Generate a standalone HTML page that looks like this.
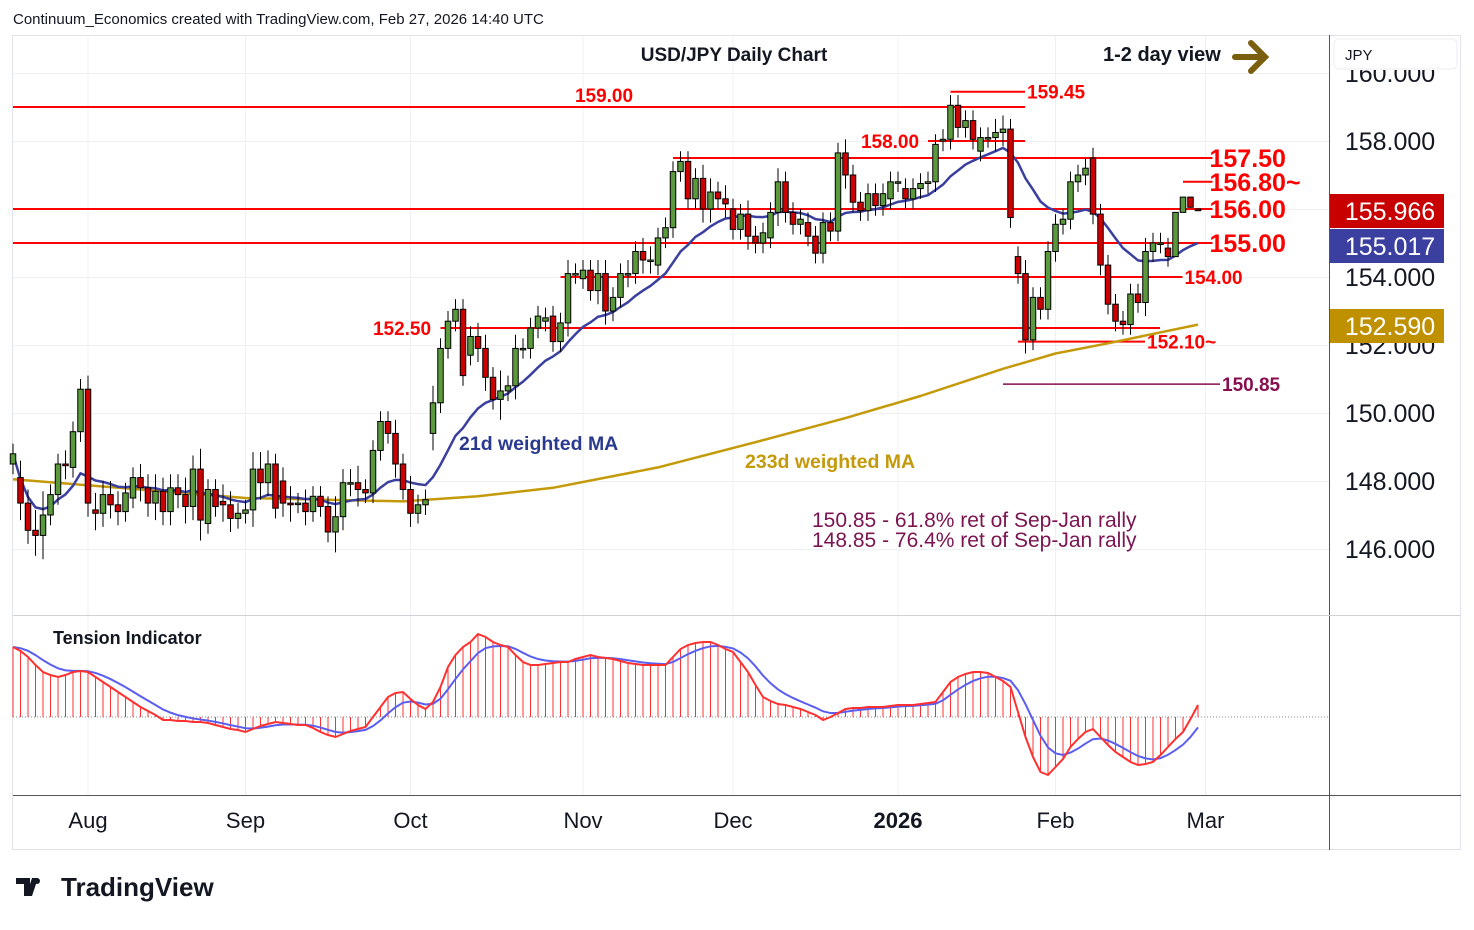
<!DOCTYPE html>
<html><head><meta charset="utf-8">
<style>
html,body{margin:0;padding:0;background:#fff;}
body{width:1474px;height:925px;overflow:hidden;font-family:"Liberation Sans",sans-serif;}
svg text{font-family:"Liberation Sans","DejaVu Sans",sans-serif;}
</style></head>
<body>
<svg id="chart" width="1474" height="925" viewBox="0 0 1474 925" xmlns="http://www.w3.org/2000/svg">
<rect x="0" y="0" width="1474" height="925" fill="#fff"/>
<text x="13" y="24" font-size="15" fill="#131722">Continuum_Economics created with TradingView.com, Feb 27, 2026 14:40 UTC</text>
<rect x="12.5" y="35.5" width="1448" height="814" fill="none" stroke="#e0e3eb"/>
<g id="grid"></g>
<g id="main"></g>
<g id="ind"></g>
<line x1="1329.5" y1="35" x2="1329.5" y2="850" stroke="#555"/>
<line x1="13" y1="615.5" x2="1461" y2="615.5" stroke="#cfd2da"/>
<line x1="13" y1="795.5" x2="1461" y2="795.5" stroke="#555"/>
<g id="axis"></g>
<text x="734" y="61" font-size="19" font-weight="bold" text-anchor="middle" fill="#131722">USD/JPY Daily Chart</text>
<text x="1103" y="61" font-size="20" font-weight="bold" fill="#131722">1-2 day view</text>
<g stroke="#7a5f0e" stroke-width="6" fill="none" stroke-linecap="round"><line x1="1235" y1="57" x2="1264" y2="57"/><polyline points="1251,43 1265,57 1251,71"/></g>
<rect x="1334" y="39" width="123" height="30" rx="5" fill="#fff" stroke="#eceef2"/>
<text x="1345" y="60" font-size="15" fill="#131722">JPY</text>
<text x="459" y="450" font-size="19.5" font-weight="bold" fill="#2a3a8f">21d weighted MA</text>
<text x="745" y="468" font-size="19.5" font-weight="bold" fill="#c49a0a">233d weighted MA</text>
<text x="812" y="527" font-size="21" fill="#7b1450">150.85 - 61.8% ret of Sep-Jan rally</text>
<text x="812" y="547" font-size="21" fill="#7b1450">148.85 - 76.4% ret of Sep-Jan rally</text>
<text x="53" y="644" font-size="18" font-weight="bold" fill="#131722">Tension Indicator</text>
<g><path d="M16 878h14v18h-6v-12h-8z M32 878h6l-6 18h-6z" fill="#131722"/><circle cx="37" cy="881" r="3" fill="#131722"/><text x="61" y="896" font-size="26" font-weight="bold" fill="#131722">TradingView</text></g>
</svg>
<script>
const opens=[148.5,148.1,147.35,146.55,146.4,147.0,147.6,148.5,148.4,149.45,150.7,147.15,147.05,147.6,147.3,147.1,147.5,148.1,147.8,147.35,147.7,147.1,147.8,147.6,147.25,148.35,146.75,147.75,147.4,147.3,146.9,147.05,147.15,148.35,147.95,148.5,148.0,147.35,147.35,147.35,147.1,147.55,147.25,146.5,146.95,147.95,147.95,147.75,147.65,148.9,149.75,149.4,148.5,147.75,147.05,147.3,
149.4,150.3,151.9,152.7,153.05,151.7,152.25,151.9,151.05,150.4,150.65,150.8,151.9,151.9,152.5,152.7,152.85,152.1,152.65,154.1,153.95,154.2,153.6,154.1,153.0,153.4,154.1,154.1,154.75,154.5,154.35,155.15,155.45,157.1,157.4,156.3,156.9,156.0,156.5,156.3,156.0,155.4,155.85,155.2,155.0,155.15,155.9,156.8,155.9,155.55,155.6,155.2,154.7,155.6,155.35,
157.65,157.0,156.2,155.95,156.45,156.1,156.3,156.8,156.6,156.3,156.6,156.75,156.8,158.0,158.05,159.05,158.4,158.6,157.7,158.1,158.1,158.25,158.35,154.6,154.1,152.15,153.4,153.05,154.75,155.55,155.7,156.8,157.0,157.5,155.85,154.35,153.2,152.7,152.6,153.5,153.25,154.75,155.0,154.85,154.6,155.9,156.35,156.0];
const closes=[148.8,147.35,146.55,146.4,147.0,147.6,148.5,148.45,149.45,150.7,147.35,147.05,147.6,147.3,147.1,147.65,148.1,147.8,147.35,147.7,147.1,147.8,147.6,147.25,148.35,146.85,147.75,147.25,147.3,146.9,147.05,147.15,148.35,147.95,148.5,147.2,147.35,147.3,147.35,147.1,147.55,147.25,146.5,146.95,147.95,147.95,147.75,147.65,148.9,149.75,149.4,148.5,147.75,147.05,147.3,147.45,
150.3,151.9,152.7,153.05,151.1,152.25,151.9,151.05,150.4,150.65,150.8,151.9,151.9,152.5,152.85,152.8,152.1,152.65,154.1,154.1,154.2,153.6,154.1,153.0,153.4,154.1,154.1,154.75,154.5,154.5,155.15,155.45,157.1,157.4,156.3,156.9,156.0,156.5,156.3,156.15,155.4,155.85,155.2,155.0,155.3,155.9,156.8,155.9,155.55,155.7,155.2,154.7,155.6,155.35,157.65,
157.0,156.2,155.95,156.45,156.1,156.45,156.8,156.8,156.3,156.6,156.75,156.8,157.9,158.05,159.05,158.4,158.6,158.05,158.1,158.1,158.25,158.35,155.75,154.1,152.15,153.4,153.05,154.75,155.55,155.7,156.8,157.0,157.2,155.85,154.35,153.2,152.7,152.6,153.5,153.25,154.75,155.0,155.0,154.6,155.9,156.35,156.05,155.95];
const wicks=[0.3,0.5,0.4,0.6,0.7,0.3,0.3,0.4,0.3,0.3,0.4,0.5,0.4,0.4,0.4,0.3,0.3,0.4,0.4,0.5,0.4,0.4,0.4,0.5,0.4,0.6,0.3,0.3,0.5,0.4,0.3,0.3,0.5,0.5,0.4,0.3,0.4,0.5,0.3,0.4,0.3,0.3,0.3,0.6,0.4,0.4,0.5,0.3,0.3,0.3,0.3,0.4,0.3,0.4,0.3,0.3,
0.5,0.3,0.3,0.3,0.3,0.3,0.4,0.4,0.3,0.6,0.3,0.4,0.3,0.3,0.3,0.3,0.3,0.3,0.4,0.3,0.3,0.3,0.4,0.4,0.3,0.3,0.4,0.3,0.4,0.4,0.3,0.3,0.3,0.3,0.3,0.3,0.4,0.4,0.3,0.4,0.3,0.3,0.4,0.3,0.3,0.3,0.4,0.3,0.3,0.3,0.3,
0.3,0.3,0.3,0.3,0.4,0.3,0.3,0.3,0.3,0.3,0.3,0.3,0.3,0.3,0.3,0.3,0.3,0.3,0.3,0.3,0.3,0.3,0.3,0.3,0.4,0.4,0.3,0.3,0.4,0.3,0.3,0.3,0.3,0.3,0.3,0.3,0.3,0.3,0.3,0.3,0.3,0.3,0.3,0.3,0.4,0.3,0.3,0.3];
const ma233Idx=[0,31,52,62,72,86,100,111,121,132,139,146,158];
const ma233Val=[148.05,147.5,147.4,147.55,147.8,148.4,149.2,149.85,150.5,151.3,151.75,152.05,152.6];
const tension=[70,66,60,52,45,42,40,42,45,46,45,40,35,30,25,20,15,10,6,2,-3,-3,-4,-4,-5,-5,-6,-8,-10,-12,-13,-15,-12,-9,-7,-5,-6,-7,-8,-8,-11,-15,-18,-20,-17,-14,-12,-10,0,10,20,24,25,18,12,8,15,30,50,62,70,75,83,80,75,72,70,62,55,52,52,53,54,55,55,58,60,62,60,59,58,56,54,53,52,52,52,52,60,68,72,74,75,75,72,68,65,55,45,32,20,16,13,12,10,8,5,2,-3,0,4,8,9,9,10,10,10,11,12,12,12,13,14,15,25,35,40,43,45,45,44,40,36,30,5,-20,-40,-55,-58,-50,-42,-30,-22,-15,-12,-20,-28,-35,-40,-45,-48,-47,-45,-38,-30,-22,-15,-2,12];
const priceTicks=[160,158,156,154,152,150,148,146];
const monthLabels=["Aug","Sep","Oct","Nov","Dec","2026","Feb","Mar"];
const monthBars=[10,31,53,76,96,118,139,159];
const levelVals=[159.00,159.45,158.00,157.50,156.80,156.00,155.00,154.00,152.50,152.10,150.85];
const levelText=["159.00","159.45","158.00","157.50","156.80~","156.00","155.00","154.00","152.50","152.10~","150.85"];
const levelFrom=[0,125,122,88,156,0,0,73,57,134,132];
const levelTo=[134,134,134,159,159,159,159,155,152,150,160];

const NS="http://www.w3.org/2000/svg";
const N=closes.length;
function xOf(i){return 1198-(N-1-i)*7.5;}
function yOf(p){return 141+(158-p)*34;}
function tY(v){return 717-v;}
function mk(tag,attrs,parent){const e=document.createElementNS(NS,tag);for(const k in attrs)e.setAttribute(k,attrs[k]);parent.appendChild(e);return e;}
const grid=document.getElementById('grid'),main=document.getElementById('main'),ind=document.getElementById('ind'),axis=document.getElementById('axis');

priceTicks.forEach((p,k)=>{
  const l=mk('line',{x1:13,x2:1329,y1:yOf(p)+0.5,y2:yOf(p)+0.5,stroke:'#eef0f4'},grid);
  
  
  const t=mk('text',{x:1390,y:yOf(p)+9,'font-size':25,'text-anchor':'middle',fill:'#131722'},axis);
  t.textContent=p.toFixed(3);
  
  
});
monthLabels.forEach((m,k)=>{
  const x=xOf(monthBars[k]);
  const l=mk('line',{x1:x,x2:x,y1:35,y2:795,stroke:'#eef0f4'},grid);
  
  
  const t=mk('text',{x:x,y:828,'font-size':22,'text-anchor':'middle',fill:'#131722','font-weight':m==='2026'?'bold':'normal'},axis);
  t.textContent=m;
  
  
});
mk('rect',{x:1333,y:38,width:125,height:32,fill:'#fff'},axis);

levelVals.forEach((v,k)=>{
  const purple=k===10;
  const col=purple?'#880e4f':'#ff0000';
  const x2=xOf(levelTo[k])+7;
  const l=mk('line',{x1:xOf(levelFrom[k]),x2:x2,y1:yOf(v),y2:yOf(v),stroke:col,'stroke-width':purple?1.5:2},main);
  
  
  let tx,ty=yOf(v)+7,fs=19,anchor='start';
  if(k===0){tx=604;ty=yOf(v)-5;anchor='middle';}
  else if(k===2){tx=890;ty=yOf(v)+7;anchor='middle';}
  else if(k===8){tx=402;anchor='middle';}
  else if(k>=3&&k<=6){tx=x2-3;fs=25;ty=yOf(v)+9;}
  else {tx=x2+2;}
  const t=mk('text',{x:tx,y:ty,'font-size':fs,'font-weight':'bold','text-anchor':anchor,fill:col},main);
  t.textContent=levelText[k];
  
  
});

let pts=ma233Idx.map((i,k)=>xOf(i)+','+yOf(ma233Val[k])).join(' ');
const m233=mk('polyline',{points:pts,fill:'none',stroke:'#c49a0a','stroke-width':2.5,'stroke-linejoin':'round'},main);



const wma=[];
for(let i=0;i<N;i++){let s=0,w=0;for(let j=0;j<21&&i-j>=0;j++){const ww=21-j;s+=closes[i-j]*ww;w+=ww;}wma.push(s/w);}
pts=wma.map((v,i)=>xOf(i)+','+yOf(v)).join(' ');
const m21=mk('polyline',{points:pts,fill:'none',stroke:'#3a3fa0','stroke-width':2.5},main);



for(let i=0;i<N;i++){
  const o=opens[i],c=closes[i],x=xOf(i);
  const hi=Math.max(o,c)+wicks[i],lo=Math.min(o,c)-wicks[i];
  const g=mk('g',{},main);
  
  
  mk('line',{x1:x,x2:x,y1:yOf(hi),y2:yOf(lo),stroke:'#000','stroke-width':1},g);
  const top=yOf(Math.max(o,c)),h=Math.max(1.5,Math.abs(yOf(o)-yOf(c)));
  mk('rect',{x:x-2.75,y:top,width:5.5,height:h,fill:c>=o?'#5b9a3c':'#cc0000',stroke:'#000','stroke-width':1},g);
}

mk('line',{x1:13,x2:1329,y1:717,y2:717,stroke:'#888','stroke-dasharray':'1,2'},ind);
for(let i=0;i<tension.length;i++){
  const h=mk('line',{x1:xOf(i),x2:xOf(i),y1:717,y2:tY(tension[i]),stroke:'#ff3030','stroke-width':1},ind);
  
  
}
const sig=[];let e=tension[0];
for(let i=0;i<tension.length;i++){e=e+(tension[i]-e)*0.3;sig.push(e);}
const bl=mk('polyline',{points:sig.map((v,i)=>xOf(i)+','+tY(v)).join(' '),fill:'none',stroke:'#5a5ef0','stroke-width':2},ind);


const rl=mk('polyline',{points:tension.map((v,i)=>xOf(i)+','+tY(v)).join(' '),fill:'none',stroke:'#ff3030','stroke-width':2},ind);



const tagVals=[155.966,155.017,152.590];
const tagCenters=[211,246,326];
const tagCols=['#c80000','#3a3fa0','#bf9000'];
tagVals.forEach((v,k)=>{
  const y=tagCenters[k];
  const r=mk('rect',{x:1330,y:y-17,width:114,height:34,fill:tagCols[k]},axis);
  
  
  const t=mk('text',{x:1390,y:y+9,'font-size':25,'text-anchor':'middle',fill:'#fff'},axis);
  t.textContent=v.toFixed(3);
  
  
});
</script>
</body></html>
